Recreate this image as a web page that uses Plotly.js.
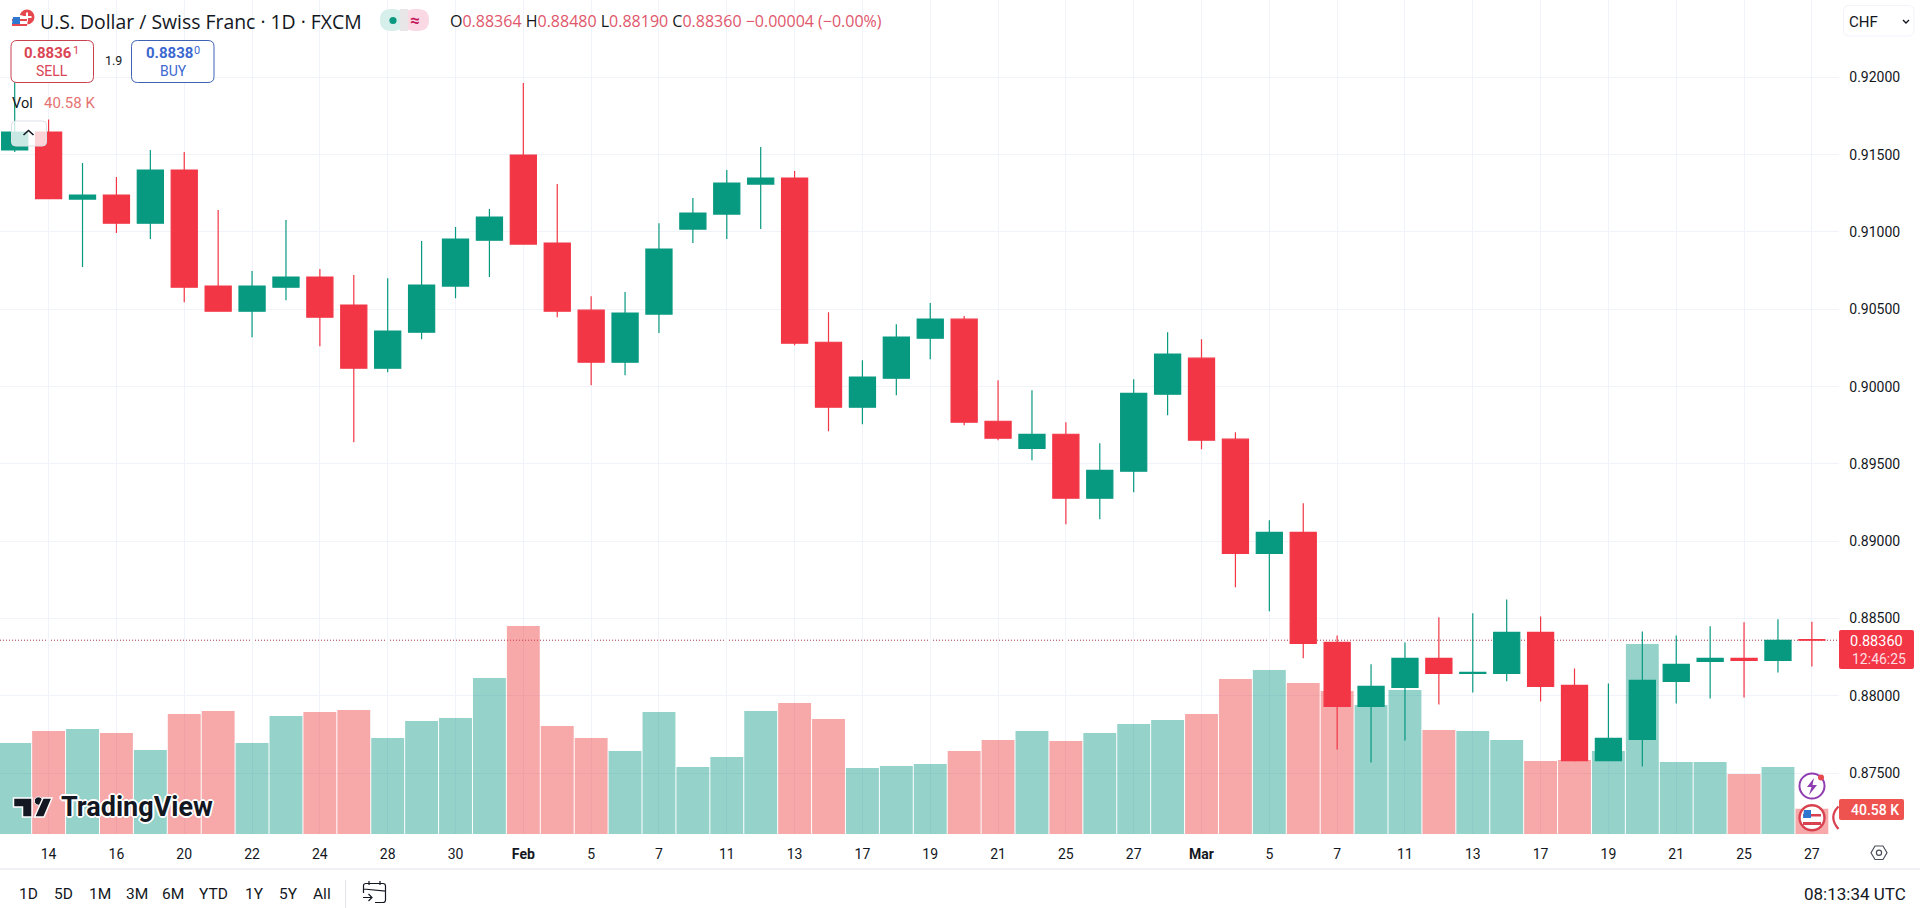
<!DOCTYPE html>
<html><head><meta charset="utf-8">
<script src="https://cdn.plot.ly/plotly-3.0.1.min.js"></script>
<style>html,body{margin:0;padding:0;background:#fff;overflow:hidden}#c{width:1920px;height:908px}</style>
</head><body><div id="c"></div>
<script>
const open_ = [0.91530,0.91646,0.91213,0.91239,0.91057,0.91400,0.90650,0.90488,0.90643,0.90708,0.90527,0.90119,0.90352,0.90650,0.90947,0.91497,0.90928,0.90494,0.90158,0.90469,0.91019,0.91116,0.91310,0.91349,0.90287,0.89867,0.90054,0.90313,0.90436,0.89776,0.89601,0.89692,0.89278,0.89453,0.89951,0.90184,0.89660,0.88922,0.89058,0.88346,0.87932,0.88055,0.88243,0.88145,0.88145,0.88411,0.88068,0.87582,0.87718,0.88094,0.88223,0.88243,0.88230,0.88364];
const high_ = [0.91970,0.91728,0.91446,0.91355,0.91530,0.91517,0.91142,0.90747,0.91077,0.90760,0.90721,0.90701,0.90941,0.91032,0.91148,0.91963,0.91310,0.90585,0.90611,0.91057,0.91219,0.91400,0.91549,0.91394,0.90481,0.90171,0.90404,0.90540,0.90456,0.90041,0.89977,0.89770,0.89634,0.90048,0.90352,0.90307,0.89705,0.89136,0.89246,0.88391,0.88204,0.88346,0.88508,0.88534,0.88624,0.88514,0.88178,0.88081,0.88417,0.88391,0.88450,0.88476,0.88495,0.88480];
const low_ = [0.91517,0.91213,0.90773,0.90993,0.90954,0.90546,0.90488,0.90320,0.90559,0.90261,0.89640,0.90093,0.90307,0.90572,0.90708,0.90920,0.90449,0.90009,0.90074,0.90346,0.90928,0.90954,0.91019,0.90268,0.89711,0.89757,0.89944,0.90177,0.89750,0.89653,0.89524,0.89110,0.89142,0.89317,0.89815,0.89595,0.88702,0.88547,0.88243,0.87654,0.87570,0.87712,0.87945,0.88022,0.88094,0.87964,0.87576,0.87582,0.87544,0.87951,0.87984,0.87990,0.88152,0.88190];
const close_ = [0.91646,0.91215,0.91239,0.91057,0.91400,0.90643,0.90488,0.90650,0.90708,0.90449,0.90119,0.90359,0.90656,0.90954,0.91096,0.90922,0.90488,0.90158,0.90475,0.90889,0.91122,0.91316,0.91349,0.90281,0.89867,0.90061,0.90320,0.90436,0.89770,0.89666,0.89692,0.89278,0.89459,0.89957,0.90210,0.89653,0.88922,0.89058,0.88340,0.87932,0.88061,0.88243,0.88145,0.88152,0.88411,0.88061,0.87582,0.87725,0.88100,0.88204,0.88243,0.88230,0.88359,0.88360];
const volumeK = [146.0,165.2,168.4,162.0,134.7,192.5,197.3,146.0,189.3,195.7,198.9,154.0,181.3,186.1,250.2,333.6,173.2,154.0,133.1,195.7,107.5,123.5,197.3,210.1,184.5,105.9,109.1,112.3,133.1,150.8,165.2,149.2,162.0,176.4,182.9,192.5,248.6,263.1,242.2,229.4,206.9,231.0,166.8,165.2,150.8,117.1,118.7,133.1,304.8,115.5,115.5,96.2,107.5,40.58];
const tickLabels = ['14','16','20','22','24','28','30','<b>Feb</b>','5','7','11','13','17','19','21','25','27','<b>Mar</b>','5','7','11','13','17','19','21','25','27'];
const lastPrice = 0.8836;

const UP='#089981', DOWN='#F23645', GRID='#F0F3FA', INK='#131722', RED_TXT='#E0566A';
const PW=1839, PH=834;
const X=p=>p/PW, Y=p=>1-p/PH;
const idx=open_.map((_,i)=>i);
const shapes=[], ann=[];
const P=(s)=>s.replace(/(-?[\d.]+),(-?[\d.]+)/g,(m,a,b)=>X(+a)+','+Y(+b));
function path(d,fill,line,lw,layer){shapes.push({type:'path',xref:'paper',yref:'paper',path:P(d),fillcolor:fill||'rgba(0,0,0,0)',line:{color:line||'rgba(0,0,0,0)',width:lw||0},layer:layer||'above'});}
function rr(x0,y0,x1,y1,r,fill,line,lw){path(`M ${x0+r},${y0} L ${x1-r},${y0} Q ${x1},${y0} ${x1},${y0+r} L ${x1},${y1-r} Q ${x1},${y1} ${x1-r},${y1} L ${x0+r},${y1} Q ${x0},${y1} ${x0},${y1-r} L ${x0},${y0+r} Q ${x0},${y0} ${x0+r},${y0} Z`,fill,line,lw);}
function circle(cx,cy,r,fill,line,lw){shapes.push({type:'circle',xref:'paper',yref:'paper',x0:X(cx-r),x1:X(cx+r),y0:Y(cy+r),y1:Y(cy-r),fillcolor:fill||'rgba(0,0,0,0)',line:{color:line||'rgba(0,0,0,0)',width:lw||0}});}
function txt(t,x,y,size,color,anchor,extra){ann.push(Object.assign({text:t,x:X(x),y:Y(y),xref:'paper',yref:'paper',xanchor:anchor||'left',yanchor:'middle',showarrow:false,borderpad:0,font:Object.assign({family:'Roboto, sans-serif',size:size,color:color},extra||{})}));}
const OS={family:'"Open Sans", sans-serif'};

/* last-price dotted line */
shapes.push({type:'line',xref:'paper',yref:'y2',x0:0,x1:1,y0:lastPrice,y1:lastPrice,line:{color:'#A83A48',width:1,dash:'1px,2px'},layer:'below'});

/* header */
circle(27,17,7.5,'#E5484F');
path('M 27,12.5 L 27,21.5 M 22.5,17 L 31.5,17',null,'#fff',2);
circle(19.5,23,8,'#fff');
path('M 12,19 L 27,19 L 27,21 L 12,21 Z M 12,24 L 27,24 L 27,26 L 12,26 Z','#E5484F');
path('M 13,17 L 20,17 L 20,24 L 12,24 Z','#2E77D0');
txt('U.S. Dollar / Swiss Franc · 1D · FXCM',38.5,22,19.4,INK,'left',OS);
rr(380,9,404,31,11,'#D6EFEA');
rr(404,9,429,31,11,'#FAD9E4');
path('M 400,9 L 408,9 L 408,31 L 400,31 Z','#E8E6E7');
circle(393,20.5,3.6,UP);
txt('≈',415,20,17,'#C2185B','center',{weight:700});
const v=s=>`<span style="color:${RED_TXT}">${s}</span>`;
txt(`O${v('0.88364')} H${v('0.88480')} L${v('0.88190')} C${v('0.88360')} ${v('−0.00004 (−0.00%)')}`,449,21,16,INK,'left',OS);

/* trade buttons */
rr(11,40.5,93.5,82.5,6,'#fff','#C8414F',1);
txt('0.8836',23,53,15,'#DA4453','left',{weight:700});
txt('1',71.5,51,11,'#DA4453');
txt('SELL',51.5,71,14,'#DA4453','center');
txt('1.9',113,61,12.5,INK,'center');
rr(131.5,40.5,214,82.5,6,'#fff','#3E63B4',1);
txt('0.8838',145,53,15,'#3B68D0','left',{weight:700});
txt('0',193,51,11,'#3B68D0');
txt('BUY',173,71,14,'#3B68D0','center');

/* volume legend + collapse button */
txt('Vol',11,103,14.5,INK);
txt('40.58 K',43,103,15,'#E57373');
rr(11.5,121,46.5,146,4,'rgba(255,255,255,0.78)','#DDDFE5',1);
path('M 23.5,135 L 28.5,130.5 L 33.5,135',null,INK,1.6);

/* CHF selector */
rr(1843.5,5.5,1914,36,6,'#fff','#F0F3FA',1);
txt('CHF',1847.5,22,15,INK);
path('M 1903,20 L 1906,23 L 1909,20',null,INK,1.4);

/* TradingView watermark */
path('M 13.5,798 L 32,798 L 32,817 L 22.5,817 L 22.5,807 L 13.5,807 Z',INK,'#fff',1.5);
circle(38.5,801,4.2,INK,'#fff',1);
path('M 43,798 L 52,798 L 44,817 L 34.5,817 Z',INK,'#fff',1.5);
txt('TradingView',60,807,27,INK,'left',{weight:700,shadow:'1px 1px 0 #fff,-1px -1px 0 #fff,1px -1px 0 #fff,-1px 1px 0 #fff,0 2px 0 #fff,0 -2px 0 #fff,2px 0 0 #fff,-2px 0 0 #fff'});

/* news icons at last bar */
circle(1812,786,12.5,'#fff','#8E3CB0',2);
path('M 1814,778 L 1807,787 L 1811.5,787 L 1809,795 L 1817,785 L 1812.5,785 Z','#8E3CB0');
circle(1821,777.6,3,'#E5484F');
circle(1812,817.7,12.5,'#fff','#D8414F',2.4);
path('M 1803,814 L 1821,814 L 1821,816.5 L 1803,816.5 Z M 1803,822 L 1821,822 L 1821,825 L 1803,825 Z','#D8414F');
path('M 1804,810 L 1811,810 L 1811,818 L 1803,818 Z','#2E77D0');
path('M 1838.5,806.5 Q 1828,817 1838.5,829',null,'#D8414F',2.2);

/* price axis labels */
rr(1839,630,1914,669,2,DOWN);
txt('0.88360',1876,641.5,14.5,'#fff','center');
txt('12:46:25',1878.5,658.5,14,'#FFDDE0','center');
rr(1839,799,1904,820,2,'#EF5350');
txt('40.58 K',1850,809.5,14,'#fff','left',{weight:500});
/* settings hexagon */
path('M 1871,852.7 L 1875,846 L 1883,846 L 1887,852.7 L 1883,859.5 L 1875,859.5 Z',null,'#4A4E5A',1.2);
circle(1879,852.7,2.6,null,'#4A4E5A',1.2);

/* bottom toolbar */
path('M 0,869 L 1920,869',null,'#E0E3EB',1);
[['1D',18],['5D',53],['1M',88],['3M',125],['6M',161],['YTD',198],['1Y',244],['5Y',278],['All',312]].forEach(([t,x])=>txt(t,x,894,15.5,INK));
path('M 345.5,880 L 345.5,908',null,'#E0E3EB',1);
path('M 385.5,891 L 385.5,900 Q 385.5,902.5 383,902.5 L 375,902.5 M 363.5,893 L 363.5,885.5 Q 363.5,883.5 366,883.5 L 383,883.5 Q 385.5,883.5 385.5,886 L 385.5,891 L 363.5,889 M 369,881 L 369,885 M 380,881 L 380,885 M 363,897.5 L 372,897.5 M 368.5,894 L 372,897.5 L 368.5,901',null,INK,1.2);
txt('08:13:34 UTC',1906.5,894,17,INK,'right');

const tickIdx=tickLabels.map((_,i)=>1+2*i);
const traces=[
 {type:'bar',x:idx,y:volumeK,xaxis:'x',yaxis:'y',marker:{color:close_.map((c,i)=>c>=open_[i]?'rgba(17,155,137,0.45)':'rgba(237,62,64,0.45)'),line:{width:0}},hoverinfo:'skip',showlegend:false},
 {type:'candlestick',x:idx,open:open_,high:high_,low:low_,close:close_,xaxis:'x',yaxis:'y2',whiskerwidth:0,
  increasing:{line:{color:UP,width:1.2},fillcolor:UP},decreasing:{line:{color:DOWN,width:1.2},fillcolor:DOWN},hoverinfo:'skip',showlegend:false}
];
const layout={
 width:1920,height:908,paper_bgcolor:'#fff',plot_bgcolor:'#fff',showlegend:false,
 margin:{l:0,r:81,t:0,b:74,pad:0},
 bargap:0.03,boxgap:0.23,boxgroupgap:0,
 font:{family:'Roboto, sans-serif',color:INK,size:14},
 xaxis:{type:'linear',range:[-0.4335,53.80],tickmode:'array',tickvals:tickIdx,ticktext:tickLabels,showgrid:true,gridcolor:GRID,gridwidth:1,zeroline:false,showline:false,
   ticks:'outside',ticklen:7,tickcolor:'rgba(0,0,0,0)',tickfont:{size:14,color:INK},rangeslider:{visible:false},fixedrange:true,automargin:false},
 yaxis:{range:[0,1337.7],showgrid:false,zeroline:false,showline:false,showticklabels:false,ticks:'',fixedrange:true,side:'left',automargin:false},
 yaxis2:{overlaying:'y',side:'right',range:[0.87107,0.92500],tick0:0.875,dtick:0.005,tickformat:'.5f',showgrid:true,gridcolor:GRID,gridwidth:1,zeroline:false,showline:false,
   ticks:'outside',ticklen:6.5,tickcolor:'rgba(0,0,0,0)',tickfont:{size:14,color:INK},fixedrange:true,automargin:false},
 shapes:shapes,annotations:ann
};
Plotly.newPlot('c',traces,layout,{staticPlot:true,displayModeBar:false});
</script></body></html>
